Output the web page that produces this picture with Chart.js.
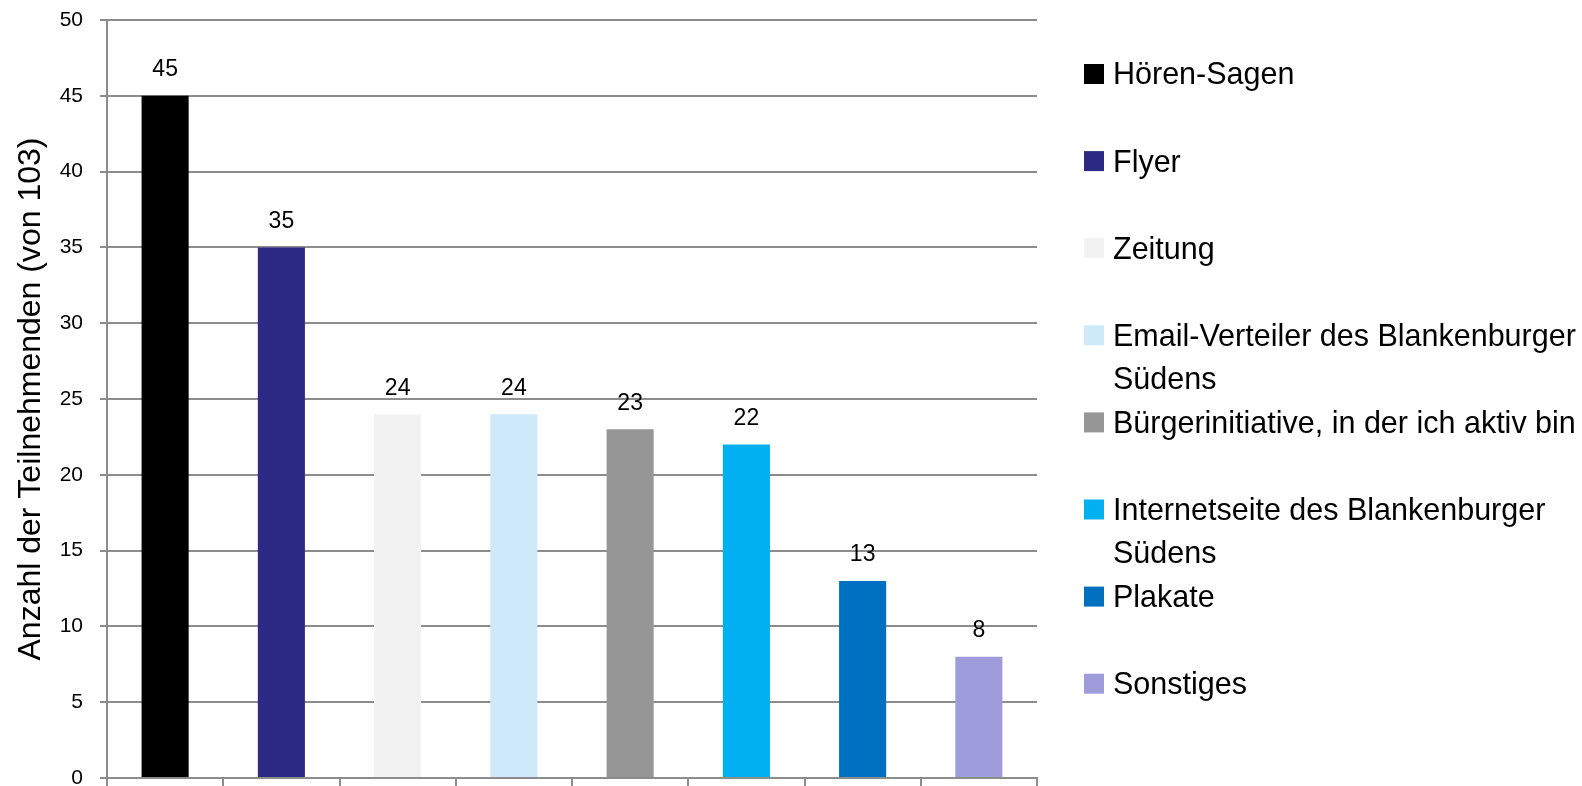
<!DOCTYPE html>
<html>
<head>
<meta charset="utf-8">
<style>
  html, body { margin: 0; padding: 0; background: #ffffff; }
  #wrap { width: 1582px; height: 786px; position: relative; }
</style>
<script src="https://cdn.jsdelivr.net/npm/chart.js@4/dist/chart.umd.min.js"></script>
</head>
<body>
<div id="wrap"><canvas id="c" width="1582" height="786"></canvas></div>
<script>
const categories = [
  "Hören-Sagen",
  "Flyer",
  "Zeitung",
  "Email-Verteiler des Blankenburger Südens",
  "Bürgerinitiative, in der ich aktiv bin",
  "Internetseite des Blankenburger Südens",
  "Plakate",
  "Sonstiges"
];
const values = [45, 35, 24, 24, 23, 22, 13, 8];
const colors = ["#000000", "#2D2A86", "#F2F2F2", "#CDE9FA", "#969696", "#00B0F0", "#0070C0", "#9F9CDC"];
const yTicks = [0, 5, 10, 15, 20, 25, 30, 35, 40, 45, 50];
const yTitle = "Anzahl der Teilnehmenden (von 103)";

const FONT = "'Liberation Sans', Arial, sans-serif";
const GRID = "#8C8C8C";

const valueLabels = {
  id: 'valueLabels',
  afterDatasetsDraw(chart) {
    const ctx = chart.ctx;
    const meta = chart.getDatasetMeta(0);
    ctx.save();
    ctx.font = "23px " + FONT;
    ctx.fillStyle = "#000";
    ctx.textAlign = "center";
    ctx.textBaseline = "middle";
    meta.data.forEach((bar, i) => {
      ctx.fillText(String(values[i]), bar.x, bar.y - 26);
    });
    ctx.restore();
  }
};

const sideLegend = {
  id: 'sideLegend',
  afterDraw(chart) {
    const ctx = chart.ctx;
    const boxX = 1084, box = 20, textX = 1113;
    const startY = 74, step = 87.1, lineH = 43.5;
    const maxW = chart.width - textX - 2;
    ctx.save();
    ctx.font = "30.5px " + FONT;
    ctx.textBaseline = "middle";
    ctx.textAlign = "left";
    categories.forEach((name, i) => {
      const cy = startY + step * i;
      ctx.fillStyle = colors[i];
      ctx.fillRect(boxX, cy - box / 2, box, box);
      const words = name.split(' ');
      const lines = [];
      let cur = '';
      words.forEach(w => {
        const test = cur ? cur + ' ' + w : w;
        if (ctx.measureText(test).width > maxW && cur) { lines.push(cur); cur = w; }
        else cur = test;
      });
      if (cur) lines.push(cur);
      ctx.fillStyle = "#000";
      lines.forEach((ln, k) => ctx.fillText(ln, textX, cy + 2 + k * lineH));
    });
    ctx.restore();
  }
};

new Chart(document.getElementById('c'), {
  type: 'bar',
  data: {
    labels: categories,
    datasets: [{
      data: values,
      backgroundColor: colors,
      borderWidth: 0,
      barPercentage: 0.405,
      categoryPercentage: 1.0
    }]
  },
  options: {
    responsive: false,
    animation: false,
    devicePixelRatio: 1,
    layout: { padding: { top: 20, right: 545, bottom: 0, left: 0 } },
    plugins: {
      legend: { display: false },
      tooltip: { enabled: false }
    },
    scales: {
      x: {
        offset: true,
        afterFit(scale) { scale.height = 8; scale.paddingLeft = 0; scale.paddingRight = 0; },
        grid: { display: true, offset: true, drawOnChartArea: false, drawTicks: true, tickLength: 8, color: GRID, lineWidth: 2 },
        border: { display: true, color: GRID, width: 2 },
        ticks: { display: false }
      },
      y: {
        min: 0, max: 50,
        afterBuildTicks(scale) { scale.ticks = yTicks.map(v => ({ value: v })); },
        afterFit(scale) { scale.width = 107; scale.paddingTop = 0; scale.paddingBottom = 0; },
        grid: { color: GRID, lineWidth: 2, tickLength: 7, drawTicks: true },
        border: { display: true, color: GRID, width: 2 },
        ticks: {
          padding: 17,
          color: "#000",
          font: { family: FONT, size: 21 }
        },
        title: {
          display: true,
          text: yTitle,
          color: "#000",
          font: { family: FONT, size: 32 },
          padding: { top: 12, bottom: 0 }
        }
      }
    }
  },
  plugins: [valueLabels, sideLegend]
});
</script>
</body>
</html>
